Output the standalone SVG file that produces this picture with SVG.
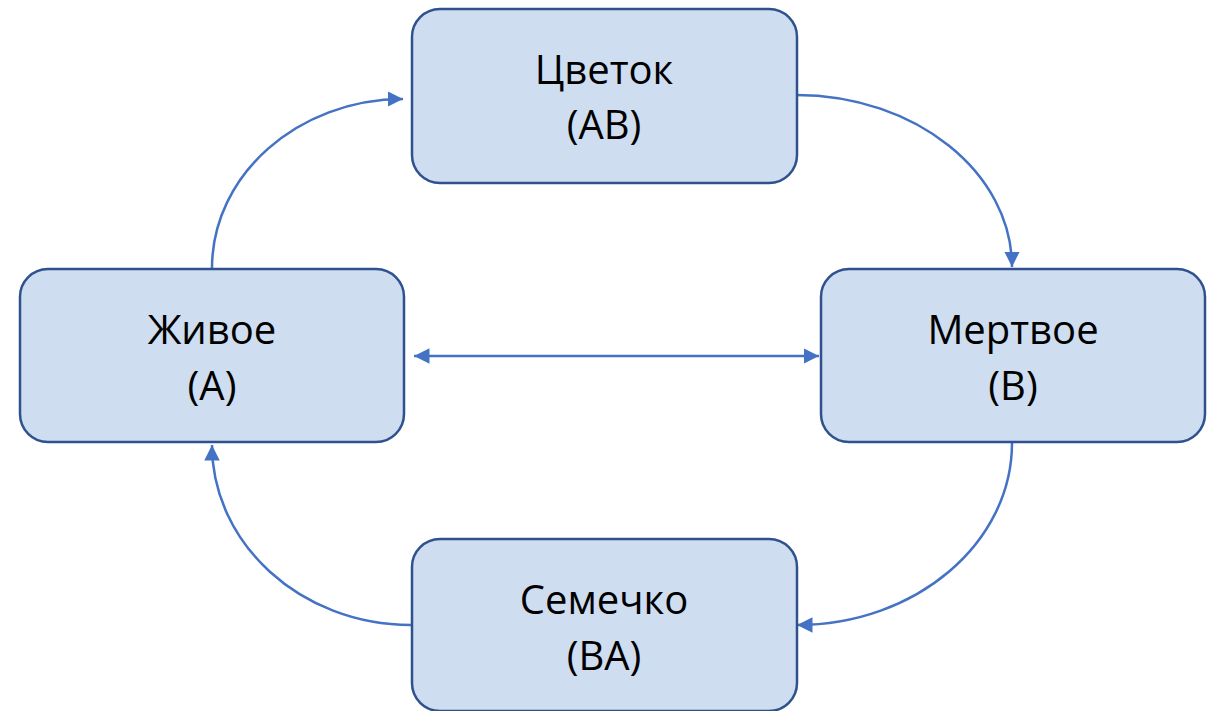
<svg xmlns="http://www.w3.org/2000/svg" width="1217" height="711" viewBox="0 0 1217 711">
<style>
.box{fill:#CEDDEF;stroke:#2F528F;stroke-width:2.5}
.lbl{font-family:"Open Sans","Liberation Sans",sans-serif;font-size:40px;fill:#000;text-anchor:middle}
.con{fill:none;stroke:#4472C4;stroke-width:2.5}
</style>
<defs>
<marker id="ah" viewBox="0 0 10 10" refX="10" refY="5" markerWidth="6.2" markerHeight="6.2" markerUnits="strokeWidth" orient="auto-start-reverse">
<path d="M0,0 L10,5 L0,10 Z" fill="#4472C4"/>
</marker>
</defs>
<g id="connectors">
<path class="con" d="M212,268 C212,175 298,99 403,99" marker-end="url(#ah)"/>
<path class="con" d="M796,95 C916,95 1012,173 1012,267" marker-end="url(#ah)"/>
<path class="con" d="M1012,443 C1012,543 916,625 797,625" marker-end="url(#ah)"/>
<path class="con" d="M411,625 C300,625 212,543 212,445" marker-end="url(#ah)"/>
<path class="con" d="M414,356 L819,356" marker-start="url(#ah)" marker-end="url(#ah)"/>
</g>
<g id="node-flower">
<rect class="box" x="412" y="9" width="385" height="174" rx="28"/>
<text class="lbl" x="604" y="84">Цветок</text>
<text class="lbl" x="604" y="139">(AB)</text>
</g>
<g id="node-alive">
<rect class="box" x="20" y="269" width="384" height="173" rx="28"/>
<text class="lbl" x="212" y="344">Живое</text>
<text class="lbl" x="212" y="400">(A)</text>
</g>
<g id="node-dead">
<rect class="box" x="821" y="269" width="384" height="173" rx="28"/>
<text class="lbl" x="1013" y="344">Мертвое</text>
<text class="lbl" x="1013" y="400">(B)</text>
</g>
<g id="node-seed">
<rect class="box" x="412" y="539" width="385" height="172" rx="28"/>
<text class="lbl" x="604" y="614">Семечко</text>
<text class="lbl" x="604" y="670">(BA)</text>
</g>
</svg>
